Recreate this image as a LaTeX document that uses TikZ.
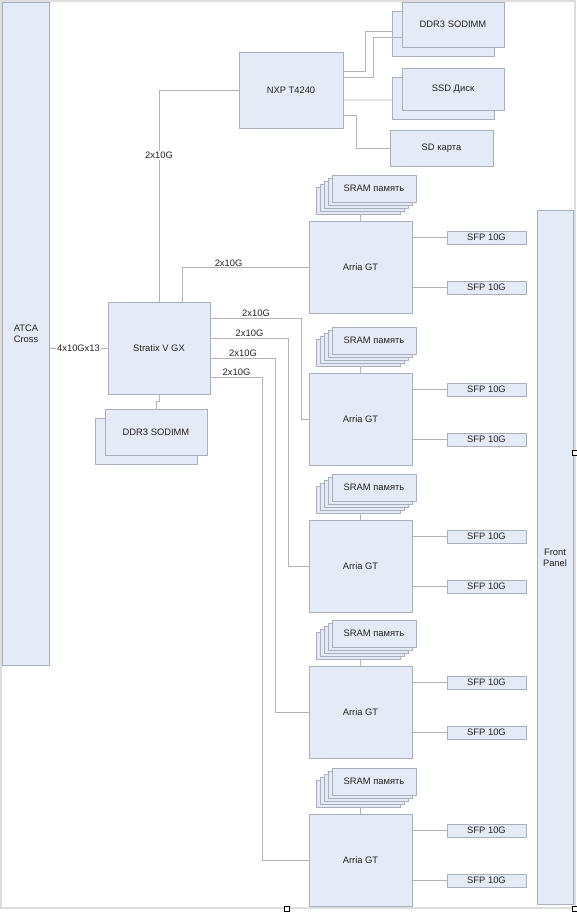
\documentclass[tikz,border=0pt]{standalone}
\usepackage{fontspec}
\setmainfont{Liberation Sans}
\usetikzlibrary{shadows}
\definecolor{boxfill}{HTML}{E4EBF6}
\definecolor{boxline}{HTML}{A9AFBC}
\definecolor{wire}{HTML}{B4B4B4}
\definecolor{framegray}{HTML}{DDDDDD}
\definecolor{ink}{HTML}{222222}
\begin{document}
\begin{tikzpicture}[x=1bp, y=-1bp,
    box_style/.style={rectangle,draw=boxline,fill=boxfill,line width=1bp,text=ink,font=\fontsize{9.4}{11}\selectfont,inner sep=0pt},
    back_style/.style={copy shadow={shadow xshift=-10bp,shadow yshift=-9bp,draw=boxline,fill=boxfill,line width=1bp}},
    chip_style/.style={box_style,minimum width=103bp,minimum height=92bp},
    sram_style/.style={box_style,minimum width=84bp,minimum height=27bp,
        copy shadow={shadow xshift=-16bp,shadow yshift=-12bp,draw=boxline,fill=boxfill,line width=1bp},
        copy shadow={shadow xshift=-12bp,shadow yshift=-9bp,draw=boxline,fill=boxfill,line width=1bp},
        copy shadow={shadow xshift=-8bp,shadow yshift=-6bp,draw=boxline,fill=boxfill,line width=1bp},
        copy shadow={shadow xshift=-4bp,shadow yshift=-3bp,draw=boxline,fill=boxfill,line width=1bp}},
    sfp_style/.style={box_style,minimum width=79bp,minimum height=13bp},
    edge_style/.style={draw=wire,line width=0.8bp},
    label_style/.style={fill=white,inner sep=1pt,text=ink,font=\fontsize{9.4}{11}\selectfont},
    handle_style/.style={rectangle,draw=black,fill=white,line width=0.6bp,minimum size=5bp,inner sep=0pt}]

    \useasboundingbox (0,0) rectangle (577,913);
    \draw[framegray,line width=2bp] (1,1) rectangle (575,908);

    % backplane, main FPGA and host
    \node[box_style,minimum width=46bp,minimum height=662bp,align=center] (atca) at (26,334) {ATCA\\Cross};
    \node[chip_style,minimum width=102bp] (stratix) at (159,348) {Stratix V GX};
    \node[box_style,back_style,minimum width=102bp,minimum height=46bp] (ddr_s) at (156,432) {DDR3 SODIMM};
    \node[box_style,minimum width=104bp,minimum height=76bp] (nxp) at (291,90) {NXP T4240};
    \node[box_style,back_style,minimum width=102bp,minimum height=45bp] (ddr_n) at (453,24.5) {DDR3 SODIMM};
    \node[box_style,back_style,minimum width=102bp,minimum height=42bp] (ssd) at (453,89) {SSD Диск};
    \node[box_style,minimum width=103bp,minimum height=36bp] (sd) at (441.5,148) {SD карта};
    \node[box_style,minimum width=36bp,minimum height=693bp,align=center] (panel) at (555,557.5) {Front\\Panel};

    % Arria GT blocks
    \node[chip_style] (a1) at (360.5,267) {Arria GT};
    \node[chip_style] (a2) at (360.5,419) {Arria GT};
    \node[chip_style] (a3) at (360.5,566) {Arria GT};
    \node[chip_style] (a4) at (360.5,712) {Arria GT};
    \node[chip_style] (a5) at (360.5,860) {Arria GT};

    \node[sram_style] (s1) at (374,188.5) {SRAM память};
    \node[sram_style] (s2) at (374,340.5) {SRAM память};
    \node[sram_style] (s3) at (374,487.5) {SRAM память};
    \node[sram_style] (s4) at (374,633.5) {SRAM память};
    \node[sram_style] (s5) at (374,781.5) {SRAM память};

    \node[sfp_style] (f1a) at (486.5,237.5) {SFP 10G};
    \node[sfp_style] (f1b) at (486.5,287.5) {SFP 10G};
    \node[sfp_style] (f2a) at (486.5,389.5) {SFP 10G};
    \node[sfp_style] (f2b) at (486.5,439.5) {SFP 10G};
    \node[sfp_style] (f3a) at (486.5,536.5) {SFP 10G};
    \node[sfp_style] (f3b) at (486.5,586.5) {SFP 10G};
    \node[sfp_style] (f4a) at (486.5,682.5) {SFP 10G};
    \node[sfp_style] (f4b) at (486.5,732.5) {SFP 10G};
    \node[sfp_style] (f5a) at (486.5,830.5) {SFP 10G};
    \node[sfp_style] (f5b) at (486.5,880.5) {SFP 10G};

    % links
    \draw[edge_style] (atca.east |- stratix.west) -- node[label_style]{4x10Gx13} (stratix.west);
    \draw[edge_style] (stratix.north) |- node[label_style,pos=0.345]{2x10G} (nxp.west);
    \draw[edge_style] ([xshift=23bp]stratix.north) |- node[label_style,pos=0.684,yshift=4bp]{2x10G} (a1.west);
    \draw[edge_style] ([yshift=30bp]stratix.east) -- node[label_style,yshift=5bp]{2x10G} ++(91,0) |- (a2.west);
    \draw[edge_style] ([yshift=10bp]stratix.east) -- node[label_style,yshift=5bp]{2x10G} ++(78,0) |- (a3.west);
    \draw[edge_style] ([yshift=-10bp]stratix.east) -- node[label_style,yshift=5bp]{2x10G} ++(65,0) |- (a4.west);
    \draw[edge_style] ([yshift=-29bp]stratix.east) -- node[label_style,yshift=5bp]{2x10G} ++(52,0) |- (a5.west);
    \draw[edge_style] (stratix.south) -- ++(0,7) -| (ddr_s.north);

    \draw[edge_style] ([yshift=19bp]nxp.east) -- ++(22,0) |- ([xshift=-10bp,yshift=-6.5bp]ddr_n.west);
    \draw[edge_style] ([yshift=13bp]nxp.east) -- ++(30,0) |- ([yshift=-12.5bp]ddr_n.west);
    \draw[edge_style] ([yshift=-10bp]nxp.east) -- ([xshift=-10bp,yshift=-11bp]ssd.west);
    \draw[edge_style] ([yshift=-25bp]nxp.east) -- ++(13,0) |- (sd.west);

    \draw[edge_style] (a1.north) -- ++(0,-7);
    \draw[edge_style] (a2.north) -- ++(0,-7);
    \draw[edge_style] (a3.north) -- ++(0,-7);
    \draw[edge_style] (a4.north) -- ++(0,-7);
    \draw[edge_style] (a5.north) -- ++(0,-7);

    \draw[edge_style] (f1a.west -| a1.east) -- (f1a.west);
    \draw[edge_style] (f1b.west -| a1.east) -- (f1b.west);
    \draw[edge_style] (f2a.west -| a2.east) -- (f2a.west);
    \draw[edge_style] (f2b.west -| a2.east) -- (f2b.west);
    \draw[edge_style] (f3a.west -| a3.east) -- (f3a.west);
    \draw[edge_style] (f3b.west -| a3.east) -- (f3b.west);
    \draw[edge_style] (f4a.west -| a4.east) -- (f4a.west);
    \draw[edge_style] (f4b.west -| a4.east) -- (f4b.west);
    \draw[edge_style] (f5a.west -| a5.east) -- (f5a.west);
    \draw[edge_style] (f5b.west -| a5.east) -- (f5b.west);

    % editor handles
    \node[handle_style] (h1) at (287,909) {};
    \node[handle_style] (h2) at (575,453) {};
    \node[handle_style] (h3) at (575,909) {};
\end{tikzpicture}
\end{document}
